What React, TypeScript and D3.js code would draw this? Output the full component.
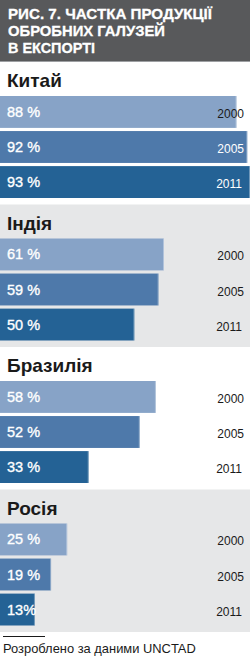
import * as d3 from 'd3'

const W = 250, H = 658

const COUNTRIES = ['Китай', 'Індія', 'Бразилія', 'Росія']
const YEARS = ['2000', '2005', '2011']
const VALUES = [
  [88, 92, 93],
  [61, 59, 50],
  [58, 52, 33],
  [25, 19, 13],
]
const LABELS = [
  ['88 %', '92 %', '93 %'],
  ['61 %', '59 %', '50 %'],
  ['58 %', '52 %', '33 %'],
  ['25 %', '19 %', '13%'],
]
const TITLE = ['РИС. 7. ЧАСТКА ПРОДУКЦІЇ', 'ОБРОБНИХ ГАЛУЗЕЙ', 'В ЕКСПОРТІ']
const SOURCE = 'Розроблено за даними UNCTAD'

const COLORS = ['#87a3c7', '#4e79aa', '#246295']
const BG = ['#ffffff', '#e6e7e8', '#ffffff', '#e6e7e8']
const FONT = '"Liberation Sans", Arial, sans-serif'

export default function App() {
  const x = d3.scaleLinear([0, 93], [0, W])
  const section = d3.scaleBand<string>(COUNTRIES, [62, 632])
  const bar = d3.scaleBand<string>(YEARS, [0, 102]).paddingInner(0.09)

  return (
    <svg width={W} height={H} viewBox={`0 0 ${W} ${H}`}
      style={{ position: 'absolute', left: 0, top: 0, fontFamily: FONT }}>
      <rect x={0} y={0} width={W} height={62} fill="#58595b" />
      <rect x={0} y={61} width={W} height={1.5} fill="#9d9fa2" />
      {TITLE.map((t, i) => (
        <text key={i} x={8} y={19 + i * 17} fill="#fff" fontSize={15.5}
          fontWeight="bold" stroke="#fff" strokeWidth={0.3}
          textLength={[204, 157, 87][i]} lengthAdjust="spacingAndGlyphs">{t}</text>
      ))}

      {COUNTRIES.map((c, ci) => {
        const top = section(c)!
        return (
          <g key={c}>
            <rect x={0} y={top} width={W} height={section.bandwidth()} fill={BG[ci]} />
            <text x={7} y={top + 25} fontSize={19} fontWeight="bold" fill="#1a1a1a">{c}</text>
            {YEARS.map((yr, yi) => {
              const y0 = top + 34 + bar(yr)!
              const bw = x(VALUES[ci][yi])
              const h = bar.bandwidth()
              const cy = y0 + h / 2
              const yearOnBar = bw > 245
              return (
                <g key={yr}>
                  <rect x={0} y={y0} width={bw} height={h} fill={COLORS[yi]} />
                  <rect x={bw - 1} y={y0} width={1} height={h} fill="#fff" opacity={0.35} />
                  <text x={7} y={cy + 5} fontSize={14.5} fill="#fff" stroke="#fff"
                    strokeWidth={0.35}>{LABELS[ci][yi]}</text>
                  <text x={yi === 2 ? 242 : 244} y={cy + 6} fontSize={12} textAnchor="end"
                    fill={yearOnBar ? '#fff' : '#1a1a1a'}>{yr}</text>
                </g>
              )
            })}
          </g>
        )
      })}

      <line x1={3} x2={45} y1={636.5} y2={636.5} stroke="#1a1a1a" strokeWidth={1} />
      <text x={3} y={653} fontSize={12.9} fill="#1a1a1a">{SOURCE}</text>
    </svg>
  )
}
